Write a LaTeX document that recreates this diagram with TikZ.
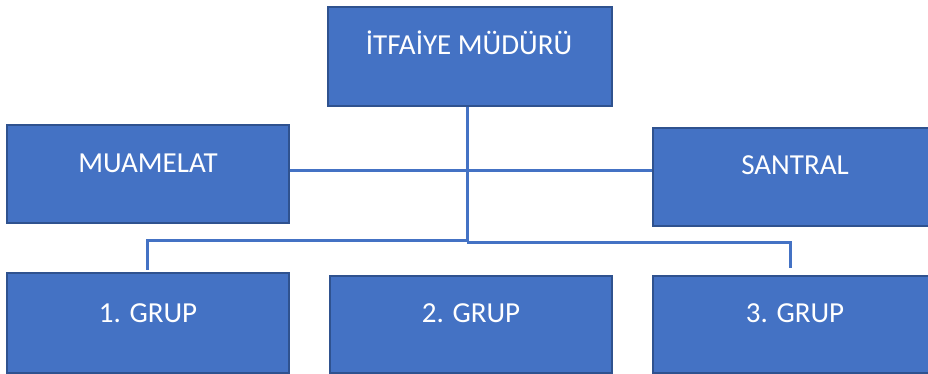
\documentclass[tikz,border=0pt]{standalone}
\usepackage{fontspec}
\setmainfont{Carlito}
\definecolor{boxfill}{HTML}{4472C4}
\definecolor{boxdraw}{HTML}{2F528F}
\begin{document}
\begin{tikzpicture}[x=1pt,y=-1pt,
  box/.style={draw=boxdraw, fill=boxfill, line width=1.5pt, inner sep=0pt, minimum width=282pt, minimum height=98pt},
  lbl/.style={text=white, font=\fontsize{29}{34}\selectfont, anchor=base, inner sep=0pt},
  conn/.style={draw=boxfill, line width=3pt}]
\useasboundingbox (0,0) rectangle (928,374);
% boxes
\node[box, minimum width=284pt, minimum height=99pt] (mudur) at (470,56.5) {};
\node[box] (muamelat) at (148,174) {};
\node[box] (santral) at (794,177) {};
\node[box, minimum height=100pt] (g1) at (148,323) {};
\node[box, minimum height=97pt] (g2) at (471,324.5) {};
\node[box, minimum height=97pt] (g3) at (794,324.5) {};
% texts
\node[lbl] (tmudur) at (469,55) {İTFAİYE MÜDÜRÜ};
\node[lbl] (tmuamelat) at (148,173) {MUAMELAT};
\node[lbl] (tsantral) at (795,175) {SANTRAL};
\node[lbl] (tg1) at (148,322) {1. GRUP};
\node[lbl] (tg2) at (471,322) {2. GRUP};
\node[lbl] (tg3) at (795,322) {3. GRUP};
% connector points
\coordinate (a) at (467,107);
\coordinate (b) at (467,240);
\coordinate (bl) at (147,240);
\coordinate (c) at (467,242);
\coordinate (cr) at (790,242);
\coordinate (l1) at (147,270);
\coordinate (l3) at (790,268);
% connectors
\draw[conn] (muamelat.east |- 0,171) -- (santral.west |- 0,171);
\draw[conn] (a) -- (c);
\draw[conn] (b) -- (bl) -- (l1);
\draw[conn] (c) -- (cr) -- (l3);
\end{tikzpicture}
\end{document}
